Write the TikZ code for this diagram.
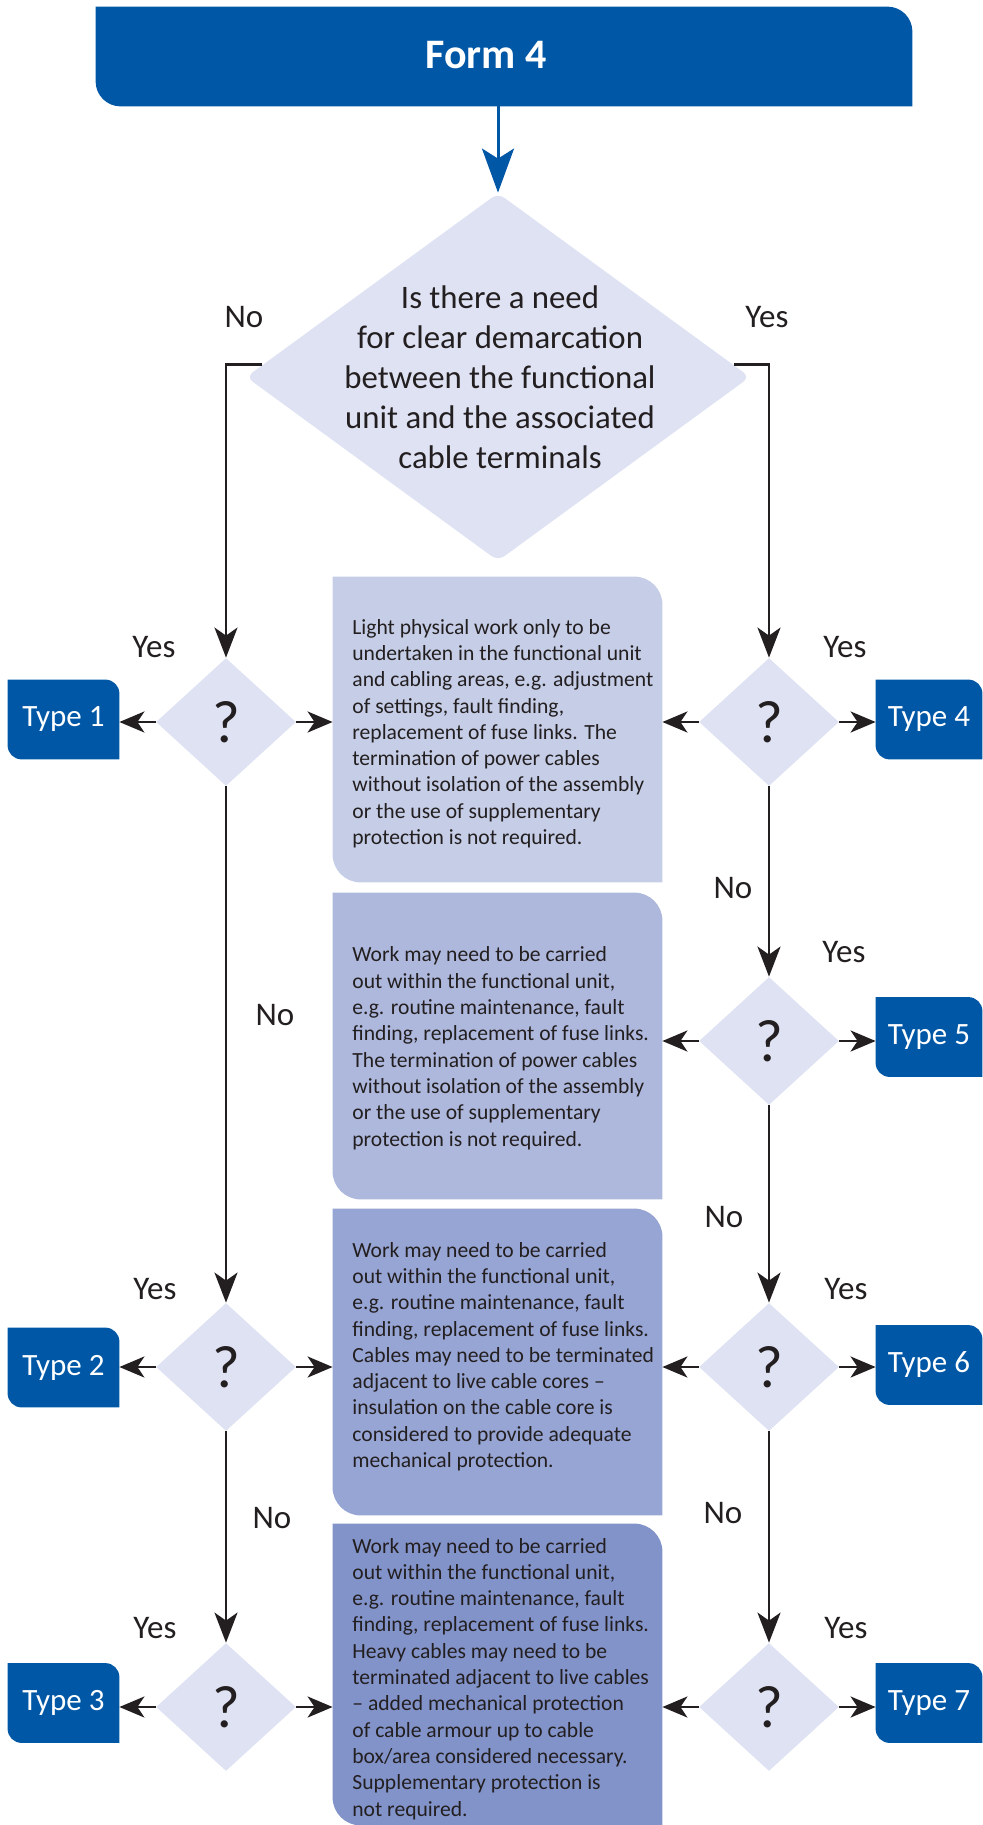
\documentclass[tikz,border=0pt]{standalone}
\usepackage{fontspec}
\setmainfont{Carlito}
\usetikzlibrary{shapes.geometric,arrows.meta,backgrounds}

\definecolor{formblue}{HTML}{0057A6}
\definecolor{qfill}{HTML}{DFE2F3}
\definecolor{infoA}{HTML}{C5CDE7}
\definecolor{infoB}{HTML}{AEB8DD}
\definecolor{infoC}{HTML}{97A5D4}
\definecolor{infoD}{HTML}{8293CA}
\definecolor{ink}{HTML}{231F20}

% fill a node box, round top right and bottom left corners
\newcommand{\tabfill}[3]{%
  \fill[#2] (#1.north west) -- ([xshift=-#3]#1.north east)
    arc[start angle=90,end angle=0,radius=#3] -- (#1.south east)
    -- ([xshift=#3]#1.south west)
    arc[start angle=270,end angle=180,radius=#3] -- cycle;}

\begin{document}
\begin{tikzpicture}[x=0.5pt,y=0.5pt,text=ink,
    quest/.style = {diamond,
        fill=qfill,
        inner sep=0pt,
        minimum width=70pt,
        minimum height=64pt,
        font=\fontsize{30}{30}\selectfont},
    typebox/.style = {minimum height=39.5pt,
        inner sep=0pt,
        text=white,
        font=\fontsize{15.5}{18}\selectfont},
    infobox/.style = {minimum width=164.5pt, inner sep=0pt},
    info/.style = {anchor=base west,
        align=left,
        inner sep=0pt,
        font=\fontsize{10.8}{13.15}\selectfont},
    answer/.style = {anchor=base,
        inner sep=0pt,
        font=\fontsize{16.5}{18}\selectfont},
    flow/.style = {line width=1.35pt, draw=ink,
        -{Stealth[length=15pt,width=11.5pt,inset=4pt]}},
    branch/.style = {line width=1.35pt, draw=ink,
        -{Stealth[length=12.5pt,width=10.5pt,inset=3.5pt]}}]

\useasboundingbox (0,0) rectangle (982,-1825);

% Header
\node[minimum width=408pt, minimum height=49.5pt, inner sep=0pt] (head) at (504,-56.5) {};
\node[text=white, font=\bfseries\fontsize{21}{24}\selectfont] (form) at (486,-55) {Form 4};

% Main question
\node[diamond, fill=qfill, rounded corners=4pt, inner sep=0pt,
      minimum width=252pt, minimum height=184pt] (q) at (498,-377) {};
\node[align=center, anchor=base, inner sep=0pt,
      font=\fontsize{16.4}{20}\selectfont] (qtext) at (500,-468)
  {Is there a need\\for clear demarcation\\between the functional\\unit and the associated\\cable terminals};

% Decisions, left column
\node[quest] (d1) at (226,-722) {?};
\node[quest] (d2) at (226,-1367) {?};
\node[quest] (d3) at (226,-1707) {?};

% Decisions, right column
\node[quest] (d4) at (769,-722) {?};
\node[quest] (d5) at (769,-1041) {?};
\node[quest] (d6) at (769,-1367) {?};
\node[quest] (d7) at (769,-1707) {?};

% Types
\node[typebox, minimum width=55.5pt] (t1) at (63.5,-719.5) {Type 1};
\node[typebox, minimum width=55.5pt] (t2) at (63.5,-1367.5) {Type 2};
\node[typebox, minimum width=55.5pt] (t3) at (63.5,-1703) {Type 3};
\node[typebox, minimum width=53pt] (t4) at (929,-719.5) {Type 4};
\node[typebox, minimum width=53pt] (t5) at (929,-1037) {Type 5};
\node[typebox, minimum width=53pt] (t6) at (929,-1365) {Type 6};
\node[typebox, minimum width=53pt] (t7) at (929,-1703) {Type 7};

% Descriptions
\node[infobox, minimum height=152.5pt] (b1) at (497.5,-729.5) {};
\node[infobox, minimum height=153pt] (b2) at (497.5,-1046) {};
\node[infobox, minimum height=153pt] (b3) at (497.5,-1362) {};
\node[infobox, minimum height=150.5pt] (b4) at (497.5,-1674.5) {};

% (anchored at the baseline of the last line)
\node[info] (i1) at (352,-844.5) {Light physical work only to be\\
  undertaken in the functional unit\\and cabling areas, e.g. adjustment\\
  of settings, fault finding,\\replacement of fuse links. The\\
  termination of power cables\\without isolation of the assembly\\
  or the use of supplementary\\protection is not required.};
\node[info] (i2) at (352,-1146) {Work may need to be carried\\
  out within the functional unit,\\e.g. routine maintenance, fault\\
  finding, replacement of fuse links.\\The termination of power cables\\
  without isolation of the assembly\\or the use of supplementary\\
  protection is not required.};
\node[info] (i3) at (352,-1467.5) {Work may need to be carried\\
  out within the functional unit,\\e.g. routine maintenance, fault\\
  finding, replacement of fuse links.\\Cables may need to be terminated\\
  adjacent to live cable cores --\\insulation on the cable core is\\
  considered to provide adequate\\mechanical protection.};
\node[info] (i4) at (352,-1816) {Work may need to be carried\\
  out within the functional unit,\\e.g. routine maintenance, fault\\
  finding, replacement of fuse links.\\Heavy cables may need to be\\
  terminated adjacent to live cables\\-- added mechanical protection\\
  of cable armour up to cable\\box/area considered necessary.\\
  Supplementary protection is\\not required.};

% Box fills
\begin{scope}[on background layer]
  \tabfill{head}{formblue}{12.5pt}
  \tabfill{t1}{formblue}{7pt}
  \tabfill{t2}{formblue}{7pt}
  \tabfill{t3}{formblue}{7pt}
  \tabfill{t4}{formblue}{7pt}
  \tabfill{t5}{formblue}{7pt}
  \tabfill{t6}{formblue}{7pt}
  \tabfill{t7}{formblue}{7pt}
  \tabfill{b1}{infoA}{14pt}
  \tabfill{b2}{infoB}{14pt}
  \tabfill{b3}{infoC}{14pt}
  \tabfill{b4}{infoD}{14pt}
\end{scope}

% Connectors
\draw[line width=1.5pt, draw=formblue, -{Stealth[length=22pt,width=16pt,inset=5pt]}]
  (head.south -| q.north) -- (q.north);
\draw[flow] (q.177) -| (d1);
\draw[flow] (q.3) -| (d4);
\draw[flow] (d1) -- (d2);
\draw[flow] (d2) -- (d3);
\draw[flow] (d4) -- (d5);
\draw[flow] (d5) -- (d6);
\draw[flow] (d6) -- (d7);

\draw[branch] (d1.west) -- (d1.west -| t1.east);
\draw[branch] (d1.east) -- (d1.east -| b1.west);
\draw[branch] (d2.west) -- (d2.west -| t2.east);
\draw[branch] (d2.east) -- (d2.east -| b3.west);
\draw[branch] (d3.west) -- (d3.west -| t3.east);
\draw[branch] (d3.east) -- (d3.east -| b4.west);
\draw[branch] (d4.west) -- (d4.west -| b1.east);
\draw[branch] (d4.east) -- (d4.east -| t4.west);
\draw[branch] (d5.west) -- (d5.west -| b2.east);
\draw[branch] (d5.east) -- (d5.east -| t5.west);
\draw[branch] (d6.west) -- (d6.west -| b3.east);
\draw[branch] (d6.east) -- (d6.east -| t6.west);
\draw[branch] (d7.west) -- (d7.west -| b4.east);
\draw[branch] (d7.east) -- (d7.east -| t7.west);

% Answers
\node[answer] (no0) at (244,-327) {No};
\node[answer] (yes0) at (767,-327) {Yes};
\node[answer] (yes1) at (154,-657) {Yes};
\node[answer] (yes4) at (845,-657) {Yes};
\node[answer] (no1) at (275,-1025) {No};
\node[answer] (no4) at (733,-898) {No};
\node[answer] (yes5) at (844,-962) {Yes};
\node[answer] (no5) at (724,-1227) {No};
\node[answer] (yes2) at (155,-1299) {Yes};
\node[answer] (yes6) at (846,-1299) {Yes};
\node[answer] (no2) at (272,-1528) {No};
\node[answer] (no6) at (723,-1523) {No};
\node[answer] (yes3) at (155,-1638) {Yes};
\node[answer] (yes7) at (846,-1638) {Yes};

\end{tikzpicture}
\end{document}
